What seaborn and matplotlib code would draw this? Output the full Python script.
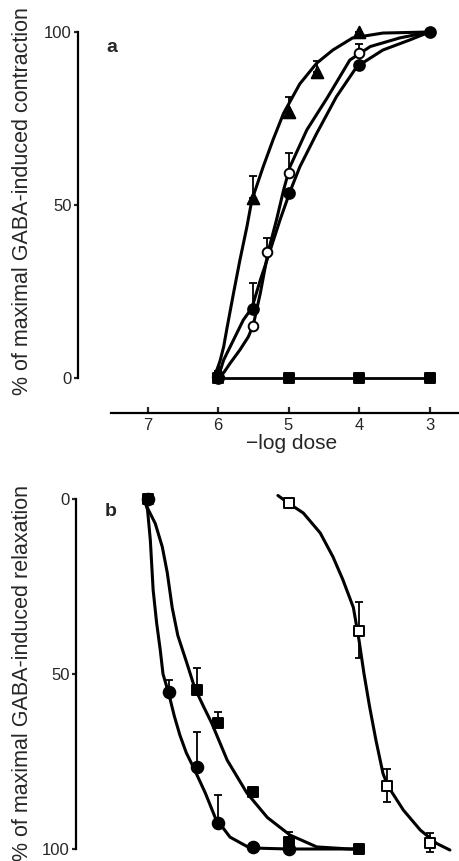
import matplotlib
matplotlib.use("Agg")
import matplotlib.pyplot as plt
import seaborn as sns

sns.set_style("white")
plt.rcParams['font.family'] = ['Liberation Sans', 'DejaVu Sans']

# ---------------- Panel a : contraction ----------------
a_tri_x = [6.0, 5.5, 5.0, 4.6, 4.0]
a_tri_y = [2, 52, 77, 88.5, 100]
a_tri_err = [0, 6.5, 4.3, 3, 0]

a_oc_x = [5.5, 5.3, 5.0, 4.0]
a_oc_y = [15, 36.4, 59.3, 94]
a_oc_err = [0, 4, 5.7, 2.4]

a_fc_x = [6.0, 5.5, 5.0, 4.0, 3.0]
a_fc_y = [0, 20, 53.5, 90.5, 100]
a_fc_err = [0, 7.4, 0, 0, 0]

a_sq_x = [6.0, 5.0, 4.0, 3.0]
a_sq_y = [0, 0, 0, 0]

# fitted curves
a_tri_cx = [6.02, 5.97, 5.92, 5.87, 5.78, 5.69, 5.59, 5.52, 5.36, 5.22, 5.07, 4.84, 4.60, 4.37, 4.09, 3.66, 3.0]
a_tri_cy = [2, 5, 9, 14.7, 24.5, 34, 43.7, 51.4, 61, 68.8, 76.5, 85, 91, 94.8, 98.3, 99.7, 100]
a_oc_cx = [6.0, 5.92, 5.83, 5.69, 5.57, 5.5, 5.4, 5.29, 5.17, 5.07, 4.98, 4.74, 4.45, 4.13, 3.84, 3.42, 3.0]
a_oc_cy = [0, 1.5, 4.2, 8.1, 11.9, 15.3, 24.5, 36.4, 45.7, 54.3, 61, 71.7, 81, 91.9, 95.8, 98.3, 100]
a_fc_cx = [6.0, 5.92, 5.78, 5.64, 5.52, 5.4, 5.29, 5.12, 4.98, 4.84, 4.6, 4.32, 4.03, 3.66, 3.28, 3.0]
a_fc_cy = [0, 5.2, 11, 16.8, 20.2, 28.3, 35, 45.7, 53.8, 61, 70.7, 81.3, 90, 94.8, 97.7, 100]
a_sq_cx = [6.0, 3.0]
a_sq_cy = [0, 0]

a_xticks = [7, 6, 5, 4, 3]
a_yticks = [0, 50, 100]

# ---------------- Panel b : relaxation ----------------
b_fc_x = [7.0, 6.7, 6.3, 6.0, 5.5, 5.0]
b_fc_y = [0, 55, 76.6, 92.5, 99.5, 100]
b_fc_err = [0, 3.3, 10, 8, 0, 0]

b_fs_x = [7.0, 6.3, 6.0, 5.5, 5.0, 4.0]
b_fs_y = [0, 54.6, 64, 83.7, 98, 100]
b_fs_err = [0, 6.3, 3.1, 0, 3, 0]

b_os_x = [5.0, 4.0, 3.6, 3.0]
b_os_y = [1, 37.7, 82, 98.3]
b_os_err_lo = [0, 8.3, 5, 3]
b_os_err_hi = [0, 7.7, 4.6, 2.6]

b_fc_cx = [7.05, 7.0, 6.96, 6.92, 6.87, 6.82, 6.78, 6.7, 6.62, 6.54, 6.45, 6.35, 6.18, 6.04, 5.83, 5.55, 5.0, 4.0]
b_fc_cy = [0, 3, 11.7, 26, 35.5, 43, 50, 55.5, 62, 67.5, 72.5, 76.6, 84, 91, 96.6, 99.7, 100, 100]
b_fs_cx = [7.05, 6.99, 6.89, 6.79, 6.72, 6.65, 6.57, 6.44, 6.33, 6.2, 6.09, 5.87, 5.59, 5.3, 4.98, 4.6, 4.13, 4.0]
b_fs_cy = [0, 3, 7, 13.7, 21, 31, 39, 47, 54, 59.5, 64, 74.6, 84, 91, 96, 99.4, 100, 100]
b_os_cx = [5.15, 5.0, 4.79, 4.55, 4.37, 4.23, 4.08, 4.0, 3.93, 3.85, 3.76, 3.66, 3.59, 3.37, 3.13, 2.9, 2.71]
b_os_cy = [-1, 1.2, 4, 9.7, 16.5, 23, 31, 40.3, 49.8, 59.3, 68.9, 78.4, 82, 88.9, 94.6, 98.4, 100.3]

b_yticks = [0, 50, 100]

# ---------------- figure ----------------
W, H = 459, 861
fig = plt.figure(figsize=(W / 100, H / 100), dpi=100)
ax_a = fig.add_axes([78 / W, 1 - 413 / H, 381 / W, 393 / H])
ax_b = fig.add_axes([76 / W, 0, 383 / W, 371 / H])

LW = 2.2
K = 'black'

def curve(ax, x, y, lw=LW):
    sns.lineplot(x=x, y=y, ax=ax, sort=False, estimator=None, color=K,
                 linewidth=lw, zorder=2, solid_joinstyle='round',
                 solid_capstyle='round')

def errs(ax, x, y, lo, hi):
    ax.errorbar(x, y, yerr=[lo, hi], fmt='none', ecolor=K, elinewidth=1.3,
                capsize=3.0, capthick=1.3, zorder=3)

def pts(ax, x, y, marker, face, s):
    sns.scatterplot(x=x, y=y, ax=ax, marker=marker, s=s, color=face,
                    edgecolor=K, linewidth=1.4, zorder=4)

zeros = lambda v: [0] * len(v)

# panel a
curve(ax_a, a_tri_cx, a_tri_cy)
curve(ax_a, a_oc_cx, a_oc_cy)
curve(ax_a, a_fc_cx, a_fc_cy)
curve(ax_a, a_sq_cx, a_sq_cy, lw=2.0)
errs(ax_a, a_tri_x, a_tri_y, zeros(a_tri_x), a_tri_err)
errs(ax_a, a_oc_x, a_oc_y, zeros(a_oc_x), a_oc_err)
errs(ax_a, a_fc_x, a_fc_y, zeros(a_fc_x), a_fc_err)
pts(ax_a, a_sq_x, a_sq_y, 's', K, 55)
pts(ax_a, a_fc_x, a_fc_y, 'o', K, 60)
pts(ax_a, a_tri_x, a_tri_y, '^', K, 70)
pts(ax_a, a_oc_x, a_oc_y, 'o', 'white', 48)

ax_a.set_xlim(6 + (218 - 78) / 70.5, 6 - (459 - 218) / 70.5)
ax_a.set_ylim((378 - 413) / 3.46, (378 - 20) / 3.46)
for s in ['top', 'right']:
    ax_a.spines[s].set_visible(False)
ax_a.spines['left'].set_bounds(0, 100)
ax_a.spines['bottom'].set_bounds(6 + (218 - 111) / 70.5, 6 - (459 - 218) / 70.5)
for s in ['left', 'bottom']:
    ax_a.spines[s].set_linewidth(1.6)
    ax_a.spines[s].set_color(K)
ax_a.set_yticks(a_yticks)
ax_a.set_yticklabels([str(v) for v in a_yticks])
ax_a.set_xticks(a_xticks)
ax_a.set_xticklabels([str(v) for v in a_xticks])
ax_a.tick_params(axis='y', direction='out', length=3, width=1.6, pad=1.5,
                 labelsize=12, left=True)
ax_a.tick_params(axis='x', direction='in', length=4.5, width=1.6, pad=3.5,
                 labelsize=12, bottom=True)
ax_a.set_xlabel('\u2212log dose', fontsize=15)
ax_a.xaxis.set_label_coords((292 - 78) / 381, (413 - 434) / 393)
ax_a.set_ylabel('% of maximal GABA-induced contraction', fontsize=15.5)
ax_a.yaxis.set_label_coords((33 - 78) / 381, (413 - 201) / 393)
ax_a.text(0.075, 0.93, 'a', transform=ax_a.transAxes, fontsize=14,
          fontweight='bold', ha='left', va='center')

# panel b
curve(ax_b, b_fc_cx, b_fc_cy)
curve(ax_b, b_fs_cx, b_fs_cy)
curve(ax_b, b_os_cx, b_os_cy)
errs(ax_b, b_fc_x, b_fc_y, b_fc_err, zeros(b_fc_x))
errs(ax_b, b_fs_x, b_fs_y, b_fs_err, zeros(b_fs_x))
errs(ax_b, b_os_x, b_os_y, b_os_err_lo, b_os_err_hi)
pts(ax_b, b_fs_x, b_fs_y, 's', K, 60)
pts(ax_b, b_fc_x, b_fc_y, 'o', K, 70)
pts(ax_b, b_os_x, b_os_y, 's', 'white', 55)

ax_b.set_xlim(6 + (218 - 76) / 70.5, 6 - (459 - 218) / 70.5)
ax_b.set_ylim((861 - 499) / 3.5, (490 - 499) / 3.5)
for s in ['top', 'right', 'bottom']:
    ax_b.spines[s].set_visible(False)
ax_b.spines['left'].set_bounds(0, 100)
ax_b.spines['left'].set_linewidth(1.6)
ax_b.spines['left'].set_color(K)
ax_b.set_xticks([])
ax_b.set_yticks(b_yticks)
ax_b.set_yticklabels([str(v) for v in b_yticks])
ax_b.tick_params(axis='y', direction='out', length=3, width=1.6, pad=1.5,
                 labelsize=12, left=True)
ax_b.set_xlabel('')
ax_b.set_ylabel('% of maximal GABA-induced relaxation', fontsize=15.5)
ax_b.yaxis.set_label_coords((33 - 76) / 383, (861 - 673) / 371)
ax_b.text(0.075, (861 - 511) / 371, 'b', transform=ax_b.transAxes, fontsize=14,
          fontweight='bold', ha='left', va='center')

fig.savefig('out.png', dpi=100)
